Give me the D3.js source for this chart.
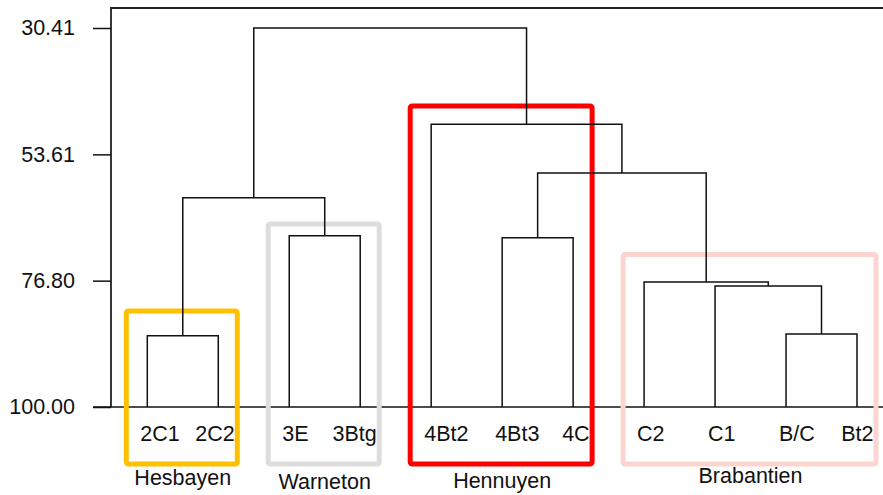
<!DOCTYPE html>
<html>
<head>
<meta charset="utf-8">
<script src="https://cdn.jsdelivr.net/npm/d3@7/dist/d3.min.js"></script>
<style>
  html, body { margin: 0; padding: 0; background: #fff; }
  svg { display: block; font-family: "Liberation Sans", Arial, sans-serif; }
</style>
</head>
<body>
<svg id="chart" width="883" height="495"></svg>
<script>
// Horizon samples, in dendrogram order
const leaves = ["2C1", "2C2", "3E", "3Btg", "4Bt2", "4Bt3", "4C", "C2", "C1", "B/C", "Bt2"];

// Agglomeration steps: [left member, right member, similarity level, node id]
const merges = [
  ["2C1", "2C2", 86.91, "n1"],
  ["B/C", "Bt2", 86.60, "n2"],
  ["C1", "n2", 77.78, "n3"],
  ["C2", "n3", 77.05, "n4"],
  ["4Bt3", "4C", 68.91, "n5"],
  ["3E", "3Btg", 68.55, "n6"],
  ["n1", "n6", 61.57, "n7"],
  ["n5", "n4", 57.03, "n8"],
  ["4Bt2", "n8", 48.09, "n9"],
  ["n7", "n9", 30.41, "n10"]
];

// Similarity axis ticks
const simTicks = [30.41, 53.61, 76.80, 100.00];

// Soil regions outlined on the dendrogram
const groupNames  = ["Hesbayen", "Warneton", "Hennuyen", "Brabantien"];
const groupFirst  = ["2C1", "3E", "4Bt2", "C2"];
const groupLast   = ["2C2", "3Btg", "4C", "Bt2"];
const groupCut    = [82.37, 66.40, 44.73, 72.00];
const groupColors = ["#FFC000", "#DDDDDD", "#FF0000", "#FCD5CE"];

const FONT = 21.5;
const BOX_W = 5;
const svg = d3.select("#chart");
const x = d3.scalePoint().domain(leaves).range([147.3, 857]);
const y = d3.scaleLinear().domain([30.41, 100]).range([28, 407]);

// Build node table: leaves sit at similarity 100
const nodes = {};
leaves.forEach(l => { nodes[l] = { id: l, level: 100, x: x(l) }; });
merges.forEach(([a, b, lev, id]) => {
  nodes[id] = { id, level: lev, x: (nodes[a].x + nodes[b].x) / 2, kids: [a, b] };
});

// Region outline geometry
const groups = groupNames.map((name, i) => ({
  name,
  first: groupFirst[i],
  last: groupLast[i],
  left: x(groupFirst[i]) - 21,
  right: x(groupLast[i]) + 19,
  top: y(groupCut[i]),
  color: groupColors[i]
}));
const bottomEdge = 464;
const groupOf = leaf => groups.find(g => x(leaf) >= x(g.first) && x(leaf) <= x(g.last));

// Leaf labels: start just left of the branch, pulled back inside the outline if needed
svg.append("g")
  .selectAll("text")
  .data(leaves)
  .join("text")
  .attr("y", 440.5)
  .attr("font-size", FONT)
  .attr("fill", "#111")
  .text(d => d)
  .each(function (d) {
    const w = this.getComputedTextLength();
    let sx = x(d) - 7;
    const g = groupOf(d);
    if (g) sx = Math.min(sx, g.right - BOX_W / 2 - w);
    d3.select(this).attr("x", sx);
  });

// Frame and baseline
svg.append("path")
  .attr("d", `M${111},${y(100)}V8H883`)
  .attr("fill", "none").attr("stroke", "#222").attr("stroke-width", 1.8);
svg.append("line")
  .attr("x1", 93).attr("x2", 883)
  .attr("y1", y(100)).attr("y2", y(100))
  .attr("stroke", "#111").attr("stroke-width", 1.5);

// Similarity axis
const axis = d3.axisLeft(y)
  .tickValues(simTicks)
  .tickFormat(d3.format(".2f"))
  .tickSize(18)
  .tickPadding(18);
const ga = svg.append("g").attr("transform", "translate(111,0)").call(axis);
ga.select(".domain").remove();
ga.selectAll(".tick line").attr("stroke", "#111").attr("stroke-width", 1.5);
ga.selectAll(".tick text")
  .attr("font-size", FONT)
  .attr("font-family", "\"Liberation Sans\", Arial, sans-serif")
  .attr("fill", "#111");

// Region outlines
svg.append("g")
  .selectAll("rect")
  .data(groups)
  .join("rect")
  .attr("x", d => d.left)
  .attr("y", d => d.top)
  .attr("width", d => d.right - d.left)
  .attr("height", d => bottomEdge - d.top)
  .attr("rx", 2)
  .attr("fill", "none")
  .attr("stroke", d => d.color)
  .attr("stroke-width", BOX_W);

// Region names, centred under each group's samples
svg.append("g")
  .selectAll("text")
  .data(groups)
  .join("text")
  .attr("x", d => (x(d.first) + x(d.last)) / 2)
  .attr("y", (d, i) => [485, 489, 488, 483][i])
  .attr("text-anchor", "middle")
  .attr("font-size", FONT)
  .attr("fill", "#111")
  .text(d => d.name);

// Dendrogram links: child verticals up to the merge, joined by a horizontal
const linkPaths = merges.map(([a, b, lev]) => {
  const A = nodes[a], B = nodes[b];
  return `M${A.x},${y(A.level)}V${y(lev)}H${B.x}V${y(B.level)}`;
});
svg.append("g")
  .selectAll("path")
  .data(linkPaths)
  .join("path")
  .attr("d", d => d)
  .attr("fill", "none")
  .attr("stroke", "#111")
  .attr("stroke-width", 1.5);
</script>
</body>
</html>
